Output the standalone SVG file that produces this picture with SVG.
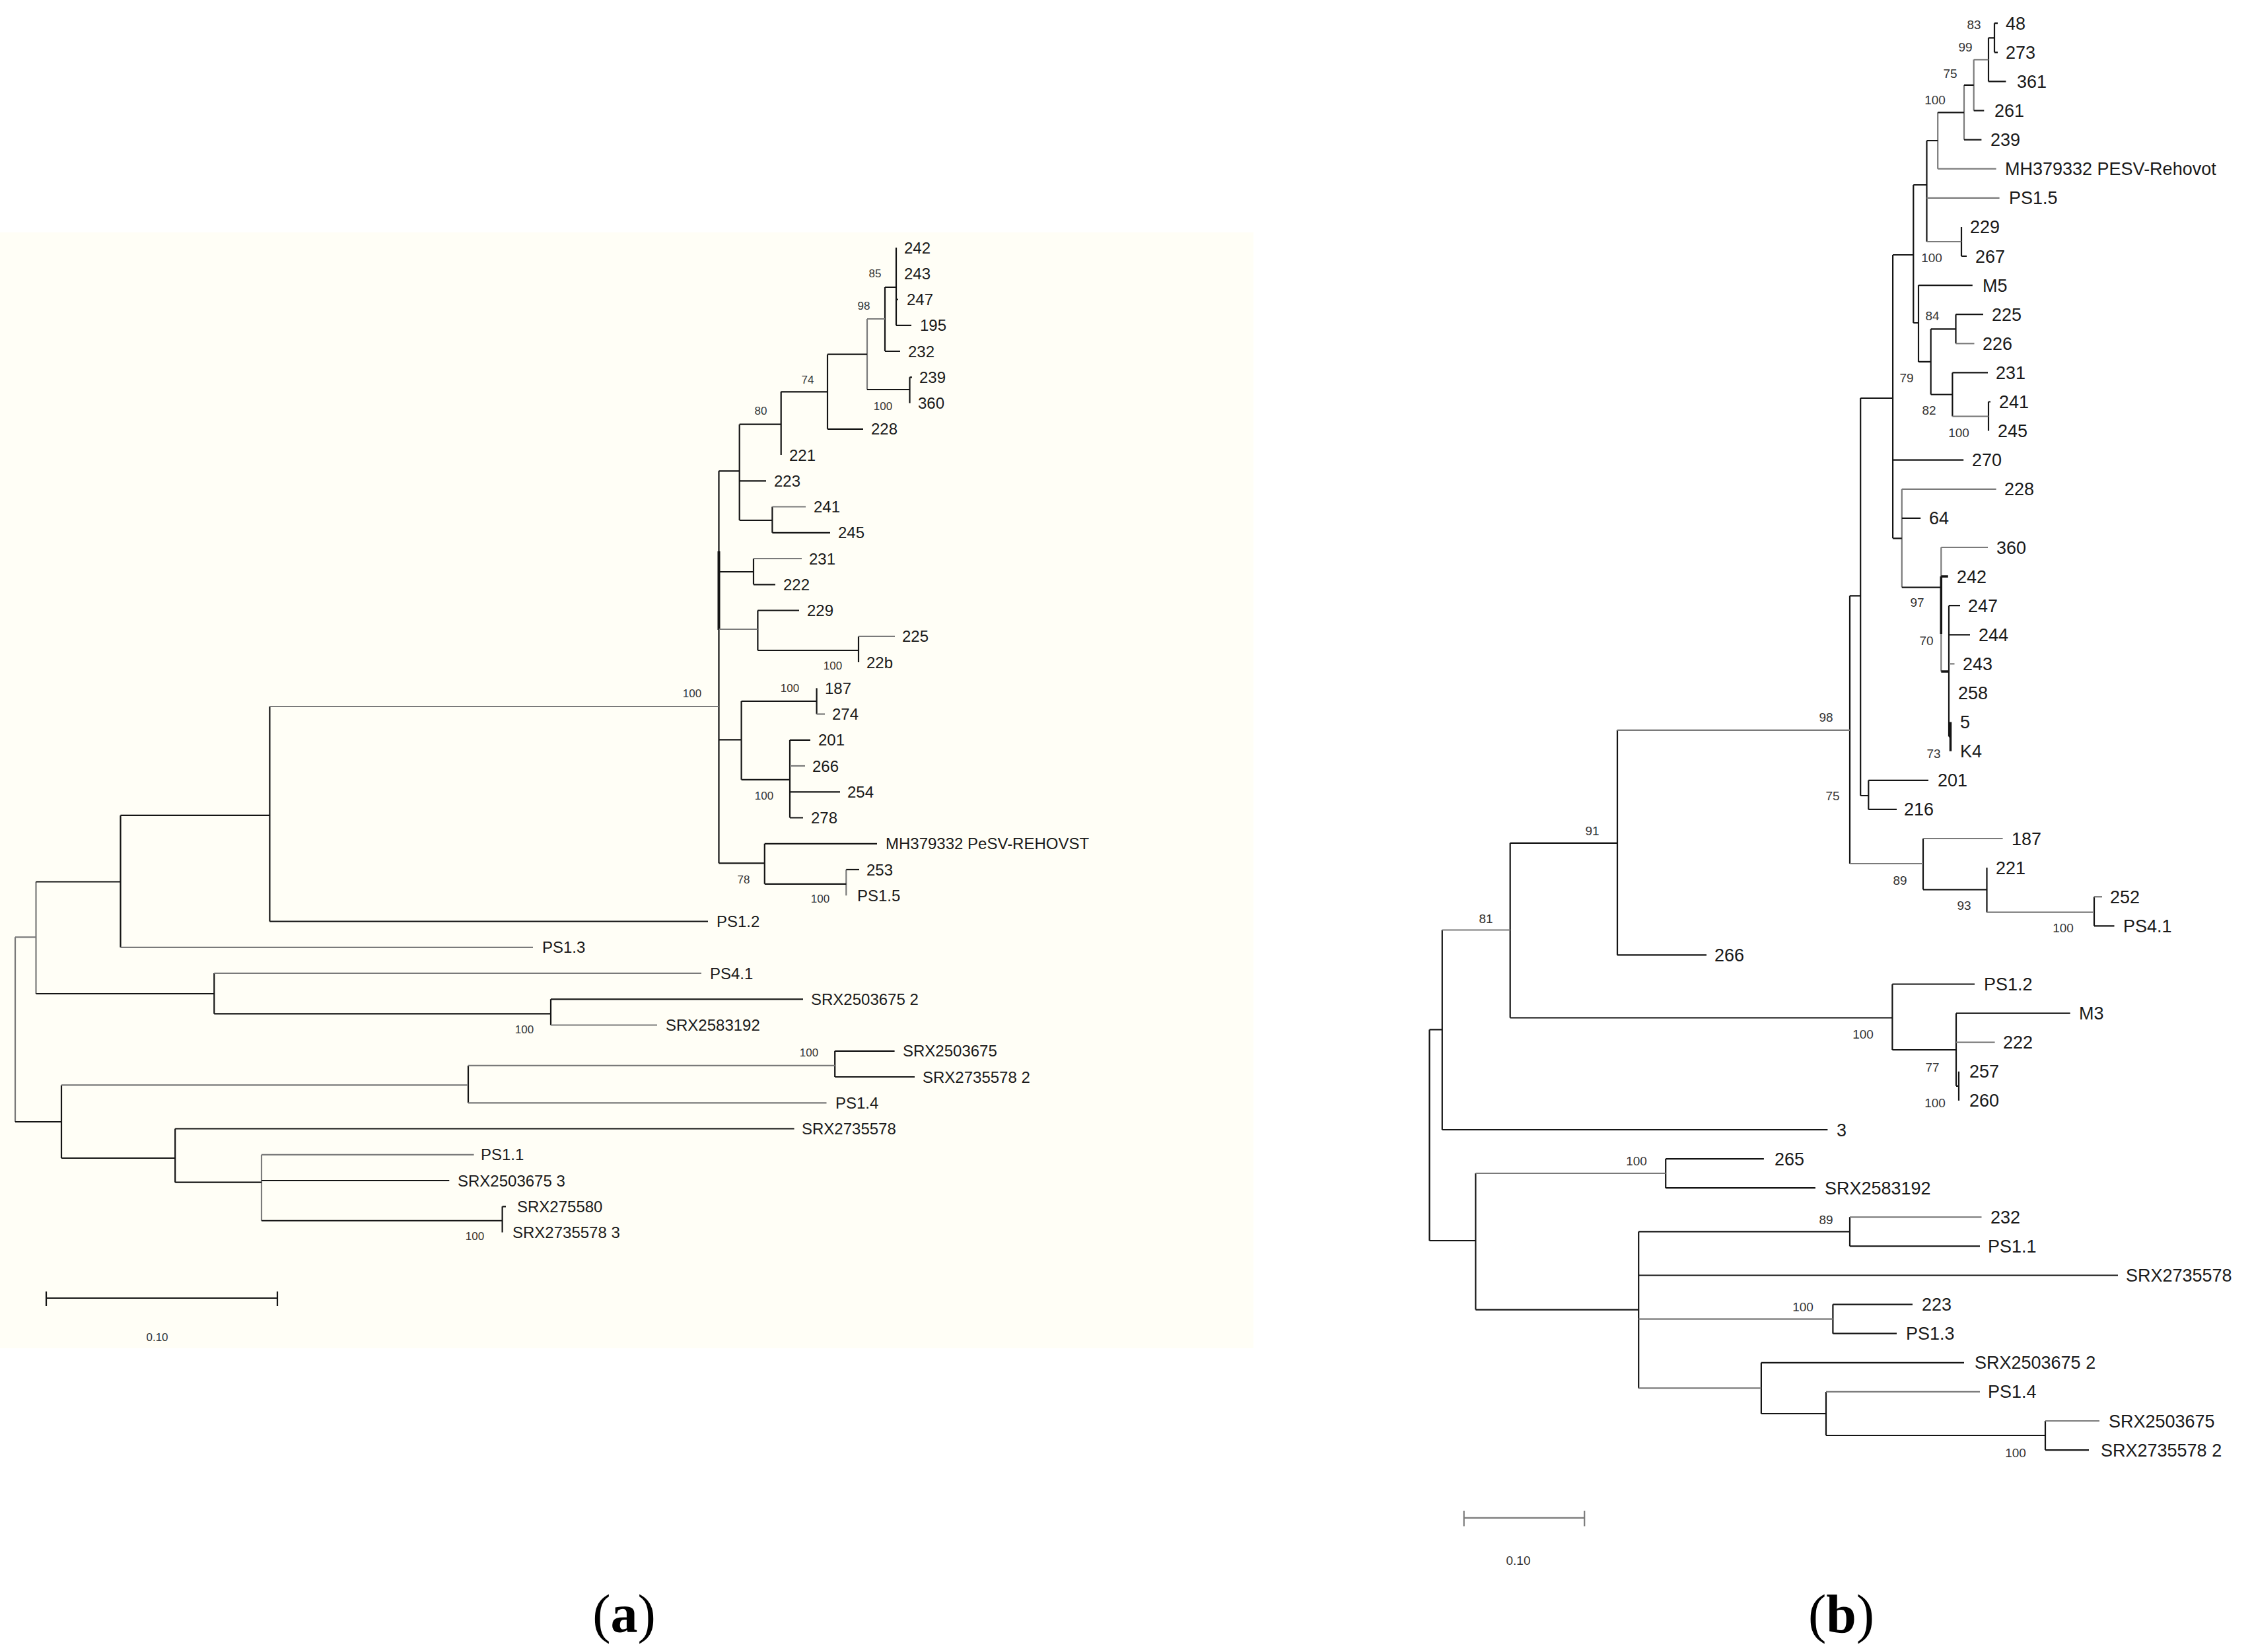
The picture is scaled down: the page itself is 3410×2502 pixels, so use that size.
<svg xmlns="http://www.w3.org/2000/svg" width="3410" height="2502" viewBox="0 0 3410 2502">
<style>
.k{fill:none;stroke:#141414;stroke-width:2.2}
.g{fill:none;stroke:#7a7a7a;stroke-width:2.2}
.la{font-family:"Liberation Sans",Arial,sans-serif;font-size:24px;fill:#1a1a1a}
.lb{font-family:"Liberation Sans",Arial,sans-serif;font-size:27px;fill:#1a1a1a}
.ba{font-family:"Liberation Sans",Arial,sans-serif;font-size:17px;fill:#333;text-anchor:middle}
.bb{font-family:"Liberation Sans",Arial,sans-serif;font-size:19px;fill:#333;text-anchor:middle}
.cap{font-family:"Liberation Serif","Times New Roman",serif;font-size:82px;fill:#000;text-anchor:middle}
</style>
<rect x="0" y="0" width="3410" height="2502" fill="#ffffff"/>
<rect x="0" y="352" width="1898" height="1690" fill="#fffef6"/>

<g id="connectors">
<!-- tree a -->
<path class="k" d="M1357 375V492.8M1357 453.5H1360M1357 492.8H1380"/>
<path class="k" d="M1340 435V532M1340 435H1357M1340 532H1363"/>
<path class="k" d="M1377.5 571.3V610.5M1377.5 571.3H1381"/>
<path class="g" d="M1313 483V590M1313 483H1340"/>
<path class="k" d="M1313 590H1377.5"/>
<path class="k" d="M1253 536.7V649.8M1253 536.7H1313M1253 649.8H1307"/>
<path class="k" d="M1182.7 593.3V689M1182.7 593.3H1253"/>
<path class="k" d="M1169.4 767.5V806.8M1169.4 806.8H1257"/>
<path class="g" d="M1169.4 767.5H1220"/>
<path class="k" d="M1119.7 642.7V788M1119.7 642.7H1182.7M1119.7 728.3H1160M1119.7 788H1169.4"/>
<path class="k" d="M1141 846V885.3M1141 885.3H1174"/>
<path class="g" d="M1141 846H1214"/>
<path class="k" d="M1300 963.8V1003"/>
<path class="g" d="M1300 963.8H1355"/>
<path class="k" d="M1147.4 924.5V985M1147.4 924.5H1210M1147.4 985H1300"/>
<path class="k" d="M1236.6 1042.3V1081.5"/>
<path class="g" d="M1236.6 1081.5H1249"/>
<path class="k" d="M1196 1120.8V1238.5M1196 1120.8H1227M1196 1199.3H1272M1196 1238.5H1216"/>
<path class="g" d="M1196 1160H1219"/>
<path class="k" d="M1122.6 1062V1180.8M1122.6 1062H1236.6M1122.6 1180.8H1196"/>
<path class="g" d="M1281.3 1317V1356.3"/>
<path class="k" d="M1281.3 1317H1301"/>
<path class="k" d="M1157.8 1277.8V1338.8M1157.8 1277.8H1328M1157.8 1338.8H1281.3"/>
<path class="k" d="M1088.5 713.3V1307.3M1088.5 713.3H1119.7M1088.5 866H1141M1088.5 1120.4H1122.6M1088.5 1307.3H1157.8"/>
<path class="k" d="M1088.5 835V954" style="stroke-width:4"/>
<path class="g" d="M1088.5 953H1147.4"/>
<path class="k" d="M408.4 1070V1395.5M408.4 1395.5H1072"/>
<path class="g" d="M408.4 1070H1088.5"/>
<path class="k" d="M182.5 1234.9V1434.8M182.5 1234.9H408.4"/>
<path class="g" d="M182.5 1434.8H807"/>
<path class="k" d="M834 1513.3V1552.5M834 1513.3H1216"/>
<path class="g" d="M834 1552.5H995"/>
<path class="k" d="M324.3 1474V1535.4M324.3 1535.4H834"/>
<path class="g" d="M324.3 1474H1062"/>
<path class="g" d="M54.5 1335.5V1505"/>
<path class="k" d="M54.5 1335.5H182.5M54.5 1505H324.3"/>
<path class="k" d="M1264.2 1591.8V1631M1264.2 1591.8H1354.6M1264.2 1631H1385"/>
<path class="k" d="M709 1613.9V1670.3"/>
<path class="g" d="M709 1613.9H1264.2M709 1670.3H1251.5"/>
<path class="k" d="M760.6 1827.3V1866.5M760.6 1827.3H766"/>
<path class="g" d="M396 1748.8V1848.75M396 1748.8H717.6"/>
<path class="k" d="M396 1788H680.3M396 1848.75H760.6"/>
<path class="k" d="M265.2 1709.5V1790.7M265.2 1709.5H1202.6M265.2 1790.7H396"/>
<path class="k" d="M93 1643.4V1754M93 1754H265.2"/>
<path class="g" d="M93 1643.4H709"/>
<path class="g" d="M23 1419.3V1699M23 1419.3H54.5"/>
<path class="k" d="M23 1699H93"/>
<!-- scale bar a -->
<path class="k" d="M70 1966H420M70 1956V1978M420 1956V1978"/>

<!-- tree b -->
<path class="k" d="M3020 35.2V79.3M3020 35.2H3025M3020 79.3H3025"/>
<path class="k" d="M3011 57.3V123.4M3011 57.3H3020M3011 123.4H3037.4"/>
<path class="g" d="M2988.7 90.3V167.5M2988.7 90.3H3011"/>
<path class="k" d="M2988.7 167.5H3004.3"/>
<path class="g" d="M2974 128.9V211.6"/>
<path class="k" d="M2974 128.9H2988.7M2974 211.6H3000.4"/>
<path class="g" d="M2934.2 170.3V255.7M2934.2 255.7H3022.6"/>
<path class="k" d="M2934.2 170.3H2974"/>
<path class="k" d="M2970 343.9V388M2970 388H2978"/>
<path class="k" d="M2917.5 213V366M2917.5 213H2934.2"/>
<path class="g" d="M2917.5 299.8H3027.6M2917.5 366H2970"/>
<path class="k" d="M2961.5 476.2V520.3M2961.5 476.2H3003"/>
<path class="g" d="M2961.5 520.3H2989.5"/>
<path class="k" d="M3011 608.5V652.6M3011 608.5H3014"/>
<path class="k" d="M2956.4 564.4V630.6M2956.4 564.4H3010"/>
<path class="g" d="M2956.4 630.6H3011"/>
<path class="k" d="M2923.7 498.3V597.5M2923.7 498.3H2961.5M2923.7 597.5H2956.4"/>
<path class="k" d="M2905 432.1V547.9M2905 432.1H2986.8M2905 547.9H2923.7"/>
<path class="k" d="M2897.3 280V489M2897.3 280H2917.5M2897.3 489H2905"/>
<path class="k" d="M2953.5 1093.6V1137.7" style="stroke-width:3.5"/>
<path class="k" d="M2951 917.2V1115.6M2951 917.2H2968M2951 961.3H2983M2951 1115.6H2953.5"/>
<path class="g" d="M2951 1005.4H2959.5"/>
<path class="g" d="M2939.3 829V1017M2939.3 829H3010"/>
<path class="k" d="M2939.3 873.1H2949.8M2939.3 1017H2951M2939.3 873.1V960" style="stroke-width:3.5"/>
<path class="g" d="M2879.8 740.8V889.6M2879.8 740.8H3022.6"/>
<path class="k" d="M2879.8 784.9H2908.2M2879.8 889.6H2939.3"/>
<path class="k" d="M2866.1 386V815.3M2866.1 386H2897.3M2866.1 696.7H2973.2M2866.1 815.3H2879.8"/>
<path class="k" d="M2829.3 1181.8V1225.9M2829.3 1181.8H2920M2829.3 1225.9H2872"/>
<path class="k" d="M2817.2 603V1205M2817.2 603H2866.1M2817.2 1205H2829.3"/>
<path class="k" d="M3171 1358.2V1402.3M3171 1402.3H3201.5"/>
<path class="g" d="M3171 1358.2H3183"/>
<path class="k" d="M3008.5 1314.1V1381.7"/>
<path class="g" d="M3008.5 1381.7H3171"/>
<path class="k" d="M2912 1270V1347.3M2912 1347.3H3008.5"/>
<path class="g" d="M2912 1270H3032.6"/>
<path class="k" d="M2801 902.3V1308M2801 902.3H2817.2"/>
<path class="g" d="M2801 1308H2912"/>
<path class="k" d="M2449 1105.8V1446.4M2449 1446.4H2584"/>
<path class="g" d="M2449 1105.8H2801"/>
<path class="k" d="M2966 1622.8V1666.9"/>
<path class="k" d="M2962 1534.6V1644.8M2962 1534.6H3134.7M2962 1644.8H2966"/>
<path class="g" d="M2962 1578.7H3020.6"/>
<path class="k" d="M2865.4 1490.5V1590M2865.4 1490.5H2990M2865.4 1590H2962"/>
<path class="k" d="M2286.7 1276.8V1541.5M2286.7 1276.8H2449M2286.7 1541.5H2865.4"/>
<path class="k" d="M2183.8 1408.5V1711M2183.8 1711H2767.4"/>
<path class="g" d="M2183.8 1408.5H2286.7"/>
<path class="k" d="M2522.2 1755.1V1799.2M2522.2 1755.1H2670.9M2522.2 1799.2H2748.9"/>
<path class="k" d="M2801 1843.3V1887.4M2801 1887.4H2998"/>
<path class="g" d="M2801 1843.3H3000.5"/>
<path class="k" d="M2775.4 1975.6V2019.7M2775.4 1975.6H2896M2775.4 2019.7H2872"/>
<path class="k" d="M3097 2152V2196.1M3097 2196.1H3163"/>
<path class="g" d="M3097 2152H3179"/>
<path class="k" d="M2765 2107.9V2174M2765 2174H3097"/>
<path class="g" d="M2765 2107.9H2998"/>
<path class="k" d="M2666.9 2063.8V2141M2666.9 2063.8H2974M2666.9 2141H2765"/>
<path class="k" d="M2481.2 1865.4V2102.4M2481.2 1865.4H2801M2481.2 1931.5H3207"/>
<path class="g" d="M2481.2 1997.7H2775.4M2481.2 2102.4H2666.9"/>
<path class="k" d="M2234.4 1777V1983.6M2234.4 1983.6H2481.2"/>
<path class="g" d="M2234.4 1777H2522.2"/>
<path class="k" d="M2164.5 1559.4V1879M2164.5 1559.4H2183.8M2164.5 1879H2234.4"/>
<!-- scale bar b -->
<path class="g" d="M2216.7 2298.9H2399.2M2216.7 2288V2311.6M2399.2 2288V2311.6"/>
</g>

<g id="tree-a-leaves" class="la">
<g id="a-242"><text x="1369" y="383.5">242</text></g>
<g id="a-243"><text x="1369" y="422.8">243</text></g>
<g id="a-247"><text x="1373" y="462">247</text></g>
<g id="a-195"><text x="1393" y="501.3">195</text></g>
<g id="a-232"><text x="1375" y="540.5">232</text></g>
<g id="a-239"><text x="1392" y="579.8">239</text></g>
<g id="a-360"><text x="1390" y="619">360</text></g>
<g id="a-228"><text x="1319" y="658.3">228</text></g>
<g id="a-221"><text x="1195" y="697.5">221</text></g>
<g id="a-223"><text x="1172" y="736.8">223</text></g>
<g id="a-241"><text x="1232" y="776">241</text></g>
<g id="a-245"><text x="1269" y="815.3">245</text></g>
<g id="a-231"><text x="1225" y="854.5">231</text></g>
<g id="a-222"><text x="1186" y="893.8">222</text></g>
<g id="a-229"><text x="1222" y="933">229</text></g>
<g id="a-225"><text x="1366" y="972.3">225</text></g>
<g id="a-22b"><text x="1312" y="1011.5">22b</text></g>
<g id="a-187"><text x="1249" y="1050.8">187</text></g>
<g id="a-274"><text x="1260" y="1090">274</text></g>
<g id="a-201"><text x="1239" y="1129.3">201</text></g>
<g id="a-266"><text x="1230" y="1168.5">266</text></g>
<g id="a-254"><text x="1283" y="1207.8">254</text></g>
<g id="a-278"><text x="1228" y="1247">278</text></g>
<g id="a-mh"><text x="1341" y="1286.3">MH379332 PeSV-REHOVST</text></g>
<g id="a-253"><text x="1312" y="1325.5">253</text></g>
<g id="a-ps15"><text x="1298" y="1364.8">PS1.5</text></g>
<g id="a-ps12"><text x="1085" y="1404">PS1.2</text></g>
<g id="a-ps13"><text x="821" y="1443.3">PS1.3</text></g>
<g id="a-ps41"><text x="1075" y="1482.5">PS4.1</text></g>
<g id="a-srx2503675-2"><text x="1228" y="1521.8">SRX2503675 2</text></g>
<g id="a-srx2583192"><text x="1008" y="1561">SRX2583192</text></g>
<g id="a-srx2503675"><text x="1367" y="1600.3">SRX2503675</text></g>
<g id="a-srx2735578-2"><text x="1397" y="1639.5">SRX2735578 2</text></g>
<g id="a-ps14"><text x="1265" y="1678.8">PS1.4</text></g>
<g id="a-srx2735578"><text x="1214" y="1718">SRX2735578</text></g>
<g id="a-ps11"><text x="728" y="1757.3">PS1.1</text></g>
<g id="a-srx2503675-3"><text x="693" y="1796.5">SRX2503675 3</text></g>
<g id="a-srx275580"><text x="783" y="1835.8">SRX275580</text></g>
<g id="a-srx2735578-3"><text x="776" y="1875">SRX2735578 3</text></g>
</g>

<g id="tree-a-support" class="ba">
<g id="a-n85"><text x="1325" y="420">85</text></g>
<g id="a-n98"><text x="1308" y="469">98</text></g>
<g id="a-n74"><text x="1223" y="581">74</text></g>
<g id="a-n80"><text x="1152" y="628">80</text></g>
<g id="a-n239"><text x="1337" y="621">100</text></g>
<g id="a-nmain"><text x="1048" y="1056">100</text></g>
<g id="a-n225"><text x="1261" y="1014">100</text></g>
<g id="a-n187"><text x="1196" y="1048">100</text></g>
<g id="a-n201"><text x="1157" y="1210.5">100</text></g>
<g id="a-n78"><text x="1126" y="1338">78</text></g>
<g id="a-n253"><text x="1242" y="1367">100</text></g>
<g id="a-nsrx1"><text x="794" y="1564.6">100</text></g>
<g id="a-nsrx2"><text x="1225" y="1599.6">100</text></g>
<g id="a-nsrx3"><text x="719" y="1878.4">100</text></g>
<g id="a-scale"><text x="238" y="2031">0.10</text></g>
</g>

<g id="tree-b-leaves" class="lb">
<g id="b-48"><text x="3037" y="44.7">48</text></g>
<g id="b-273"><text x="3037" y="88.8">273</text></g>
<g id="b-361"><text x="3054" y="132.9">361</text></g>
<g id="b-261"><text x="3020" y="177">261</text></g>
<g id="b-239"><text x="3014" y="221.1">239</text></g>
<g id="b-mh"><text x="3036" y="265.2">MH379332 PESV-Rehovot</text></g>
<g id="b-ps15"><text x="3042" y="309.3">PS1.5</text></g>
<g id="b-229"><text x="2983" y="353.4">229</text></g>
<g id="b-267"><text x="2991" y="397.5">267</text></g>
<g id="b-m5"><text x="3002" y="441.6">M5</text></g>
<g id="b-225"><text x="3016" y="485.7">225</text></g>
<g id="b-226"><text x="3002" y="529.8">226</text></g>
<g id="b-231"><text x="3022" y="573.9">231</text></g>
<g id="b-241"><text x="3027" y="618">241</text></g>
<g id="b-245"><text x="3025" y="662.1">245</text></g>
<g id="b-270"><text x="2986" y="706.2">270</text></g>
<g id="b-228"><text x="3035" y="750.3">228</text></g>
<g id="b-64"><text x="2921" y="794.4">64</text></g>
<g id="b-360"><text x="3023" y="838.5">360</text></g>
<g id="b-242"><text x="2963" y="882.6">242</text></g>
<g id="b-247"><text x="2980" y="926.7">247</text></g>
<g id="b-244"><text x="2996" y="970.8">244</text></g>
<g id="b-243"><text x="2972" y="1014.9">243</text></g>
<g id="b-258"><text x="2965" y="1059">258</text></g>
<g id="b-5"><text x="2968" y="1103.1">5</text></g>
<g id="b-k4"><text x="2968" y="1147.2">K4</text></g>
<g id="b-201"><text x="2934" y="1191.3">201</text></g>
<g id="b-216"><text x="2883" y="1235.4">216</text></g>
<g id="b-187"><text x="3046" y="1279.5">187</text></g>
<g id="b-221"><text x="3022" y="1323.6">221</text></g>
<g id="b-252"><text x="3195" y="1367.7">252</text></g>
<g id="b-ps41"><text x="3215" y="1411.8">PS4.1</text></g>
<g id="b-266"><text x="2596" y="1455.9">266</text></g>
<g id="b-ps12"><text x="3004" y="1500">PS1.2</text></g>
<g id="b-m3"><text x="3148" y="1544.1">M3</text></g>
<g id="b-222"><text x="3033" y="1588.2">222</text></g>
<g id="b-257"><text x="2982" y="1632.3">257</text></g>
<g id="b-260"><text x="2982" y="1676.4">260</text></g>
<g id="b-3"><text x="2781" y="1720.5">3</text></g>
<g id="b-265"><text x="2687" y="1764.6">265</text></g>
<g id="b-srx2583192"><text x="2763" y="1808.7">SRX2583192</text></g>
<g id="b-232"><text x="3014" y="1852.8">232</text></g>
<g id="b-ps11"><text x="3010" y="1896.9">PS1.1</text></g>
<g id="b-srx2735578"><text x="3219" y="1941">SRX2735578</text></g>
<g id="b-223"><text x="2910" y="1985.1">223</text></g>
<g id="b-ps13"><text x="2886" y="2029.2">PS1.3</text></g>
<g id="b-srx2503675-2"><text x="2990" y="2073.3">SRX2503675 2</text></g>
<g id="b-ps14"><text x="3010" y="2117.4">PS1.4</text></g>
<g id="b-srx2503675"><text x="3193" y="2161.5">SRX2503675</text></g>
<g id="b-srx2735578-2"><text x="3181" y="2205.6">SRX2735578 2</text></g>
</g>

<g id="tree-b-support" class="bb">
<g id="b-n83"><text x="2989" y="44">83</text></g>
<g id="b-n99"><text x="2976" y="78">99</text></g>
<g id="b-n75a"><text x="2953" y="118">75</text></g>
<g id="b-n100a"><text x="2930" y="158">100</text></g>
<g id="b-n100b"><text x="2925" y="397">100</text></g>
<g id="b-n84"><text x="2926" y="485">84</text></g>
<g id="b-n79"><text x="2887" y="579">79</text></g>
<g id="b-n82"><text x="2921" y="628">82</text></g>
<g id="b-n100c"><text x="2966" y="662">100</text></g>
<g id="b-n97"><text x="2903" y="919">97</text></g>
<g id="b-n70"><text x="2917" y="976.5">70</text></g>
<g id="b-n73"><text x="2928" y="1147.7">73</text></g>
<g id="b-n98"><text x="2765" y="1092.7">98</text></g>
<g id="b-n75b"><text x="2775" y="1211.5">75</text></g>
<g id="b-n91"><text x="2411" y="1264.6">91</text></g>
<g id="b-n89a"><text x="2877" y="1339.6">89</text></g>
<g id="b-n93"><text x="2974" y="1377.5">93</text></g>
<g id="b-n100d"><text x="3124" y="1412">100</text></g>
<g id="b-n81"><text x="2250" y="1397.6">81</text></g>
<g id="b-n100e"><text x="2821" y="1573">100</text></g>
<g id="b-n77"><text x="2926" y="1623">77</text></g>
<g id="b-n100f"><text x="2930" y="1676.6">100</text></g>
<g id="b-n100g"><text x="2478" y="1765">100</text></g>
<g id="b-n89b"><text x="2765" y="1854">89</text></g>
<g id="b-n100h"><text x="2730" y="1985.5">100</text></g>
<g id="b-n100i"><text x="3052" y="2207">100</text></g>
<g id="b-scale"><text x="2299" y="2370">0.10</text></g>
</g>

<g id="captions" class="cap">
<text x="945" y="2472">(<tspan font-weight="bold">a</tspan>)</text>
<text x="2788" y="2472">(<tspan font-weight="bold">b</tspan>)</text>
</g>
</svg>
